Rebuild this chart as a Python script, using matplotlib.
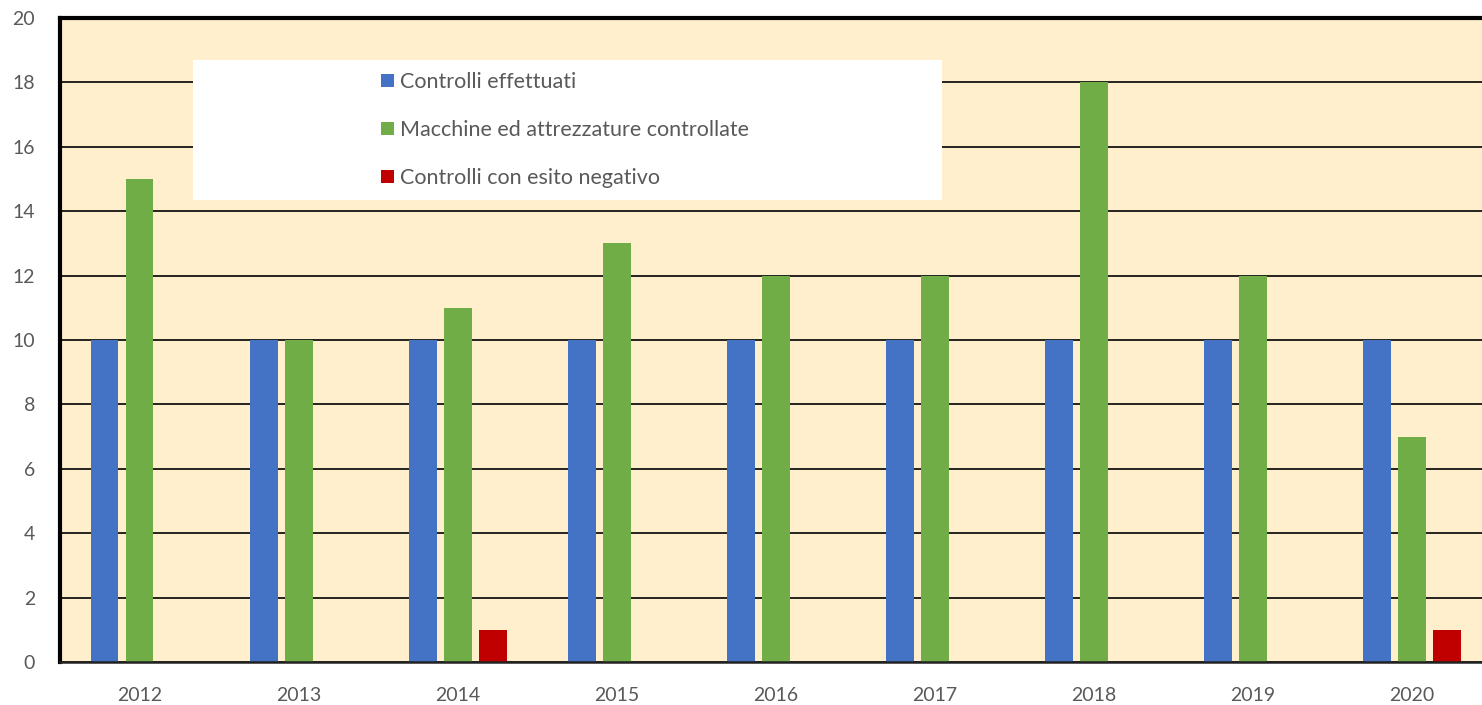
import matplotlib
matplotlib.use("Agg")
import matplotlib.pyplot as plt
import matplotlib.patches as patches
import numpy as np

plt.rcParams["font.family"] = ["Lato", "DejaVu Sans"]

# ---------------- data ----------------
years = ["2012", "2013", "2014", "2015", "2016", "2017", "2018", "2019", "2020"]
controlli = [10, 10, 10, 10, 10, 10, 10, 10, 10]
macchine = [15, 10, 11, 13, 12, 12, 18, 12, 7]
negativi = [0, 0, 1, 0, 0, 0, 0, 0, 1]
series_labels = ["Controlli effettuati",
                 "Macchine ed attrezzature controllate",
                 "Controlli con esito negativo"]

BLUE = "#4472C4"; GREEN = "#70AD47"; RED = "#C00000"
BG = "#FFEFCC"; TXT = "#595959"

W, H = 1482, 705
fig = plt.figure(figsize=(W / 100, H / 100), dpi=100)
ax = fig.add_axes([60 / W, 1 - 662 / H, 1 - 60 / W, (662 - 18) / H])
ax.set_facecolor(BG)

x = np.arange(len(years))
bw = 0.175
off = 0.22
b1 = ax.bar(x - off, controlli, bw, color=BLUE, zorder=2)
b2 = ax.bar(x, macchine, bw, color=GREEN, zorder=2)
b3 = ax.bar(x + off, negativi, bw, color=RED, zorder=2)

ax.set_xlim(-0.5, 8.44)
ax.set_ylim(0, 20)
ax.set_yticks(range(0, 21, 2))
ax.set_xticks(x)
ax.set_xticklabels(years)
ax.tick_params(length=0, labelsize=14, colors=TXT)
ax.tick_params(axis="x", pad=18)
ax.tick_params(axis="y", pad=18)
ax.yaxis.grid(True, color="black", linewidth=1.2, zorder=0)
ax.set_axisbelow(True)

ax.spines["right"].set_visible(False)
ax.spines["top"].set_linewidth(3)
ax.spines["left"].set_linewidth(3)
ax.spines["bottom"].set_linewidth(1.8)
ax.spines["bottom"].set_color("#222222")

# white legend panel
ax.add_patch(patches.Rectangle((193 / W, 1 - 200 / H), (942 - 193) / W, 140 / H,
                               transform=fig.transFigure, fc="white", ec="none",
                               zorder=3))
leg = ax.legend([b1, b2, b3], series_labels, loc="upper left",
                bbox_to_anchor=(381 / W, 1 - 72 / H), bbox_transform=fig.transFigure,
                frameon=False, fontsize=15.5, handlelength=0.6, handleheight=0.6,
                handletextpad=0.3, labelspacing=1.3, borderpad=0, borderaxespad=0)
leg.set_zorder(4)
for t in leg.get_texts():
    t.set_color(TXT)

fig.savefig("out.png", dpi=100)
